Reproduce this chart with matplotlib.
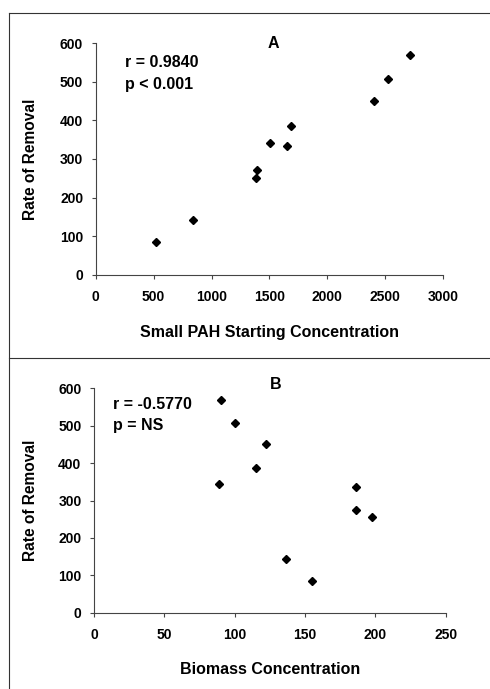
import matplotlib.pyplot as plt
from matplotlib.lines import Line2D

plt.rcParams['font.family'] = ['Liberation Sans', 'DejaVu Sans']
plt.rcParams['font.weight'] = 'bold'

# Panel A: small PAH starting concentration vs rate of removal
pah_conc = [518, 843, 1382, 1393, 1506, 1650, 1687, 2404, 2525, 2715]
removal_a = [84, 143, 252, 271, 342, 333, 386, 451, 507, 569]

# Panel B: biomass concentration vs rate of removal
biomass = [154.7, 136.5, 197.9, 186.3, 89.1, 186.0, 115.4, 122.0, 100.0, 90.3]
removal_b = [86, 144, 256, 274, 344, 335, 386, 451, 506, 568]

y_ticks = [0, 100, 200, 300, 400, 500, 600]
x_ticks_a = [0, 500, 1000, 1500, 2000, 2500, 3000]
x_ticks_b = [0, 50, 100, 150, 200, 250]


def style_axes(ax, xlim, xticks):
    ax.set_xlim(xlim)
    ax.set_ylim(0, 600)
    ax.set_xticks(xticks)
    ax.set_yticks(y_ticks)
    for side in ['top', 'right']:
        ax.spines[side].set_visible(False)
    for side in ['left', 'bottom']:
        ax.spines[side].set_color('#444444')
        ax.spines[side].set_linewidth(0.8)
    ax.tick_params(axis='x', direction='out', length=3, width=0.8,
                   pad=8, labelsize=10, colors='#444444', labelcolor='black')
    ax.tick_params(axis='y', direction='out', length=3, width=0.8,
                   pad=6, labelsize=10, colors='#444444', labelcolor='black')
    for lab in ax.get_xticklabels() + ax.get_yticklabels():
        lab.set_fontweight('bold')


fig = plt.figure(figsize=(4.9, 6.89), dpi=100)

ax1 = fig.add_axes([0.1953, 0.6013, 0.709, 0.3359])
ax1.plot(pah_conc, removal_a, 'D', color='black', markersize=4.5, clip_on=False)
style_axes(ax1, (0, 3000), x_ticks_a)
ax1.set_xlabel('Small PAH Starting Concentration', fontsize=11.5, fontweight='bold')
ax1.set_ylabel('Rate of Removal', fontsize=11.2, fontweight='bold')
ax1.xaxis.set_label_coords(0.5, -0.217)
ax1.yaxis.set_label_coords(-0.166, 0.5)
ax1.text(0.51, 1.0, 'A', transform=ax1.transAxes, ha='center', va='center',
         fontsize=11.5, fontweight='bold')
ax1.text(0.084, 0.916, 'r = 0.9840', transform=ax1.transAxes, ha='left',
         va='center', fontsize=11.5, fontweight='bold')
ax1.text(0.084, 0.82, 'p < 0.001', transform=ax1.transAxes, ha='left',
         va='center', fontsize=11.5, fontweight='bold')

ax2 = fig.add_axes([0.1918, 0.1107, 0.7178, 0.3257])
ax2.plot(biomass, removal_b, 'D', color='black', markersize=4.5, clip_on=False)
style_axes(ax2, (0, 250), x_ticks_b)
ax2.set_xlabel('Biomass Concentration', fontsize=11.5, fontweight='bold')
ax2.set_ylabel('Rate of Removal', fontsize=11.2, fontweight='bold')
ax2.xaxis.set_label_coords(0.5, -0.22)
ax2.yaxis.set_label_coords(-0.159, 0.5)
ax2.text(0.517, 1.018, 'B', transform=ax2.transAxes, ha='center', va='center',
         fontsize=11.5, fontweight='bold')
ax2.text(0.053, 0.929, 'r = -0.5770', transform=ax2.transAxes, ha='left',
         va='center', fontsize=11.5, fontweight='bold')
ax2.text(0.053, 0.833, 'p = NS', transform=ax2.transAxes, ha='left',
         va='center', fontsize=11.5, fontweight='bold')

# frame lines around the panels
W, H = 490, 689
fig.add_artist(Line2D([9 / W, 1], [1 - 13 / H, 1 - 13 / H], color='#333333', lw=0.8))
fig.add_artist(Line2D([9 / W, 1], [1 - 358 / H, 1 - 358 / H], color='#333333', lw=0.8))
fig.add_artist(Line2D([9 / W, 9 / W], [0, 1 - 13 / H], color='#333333', lw=0.8))

fig.savefig('out.png', dpi=100)
